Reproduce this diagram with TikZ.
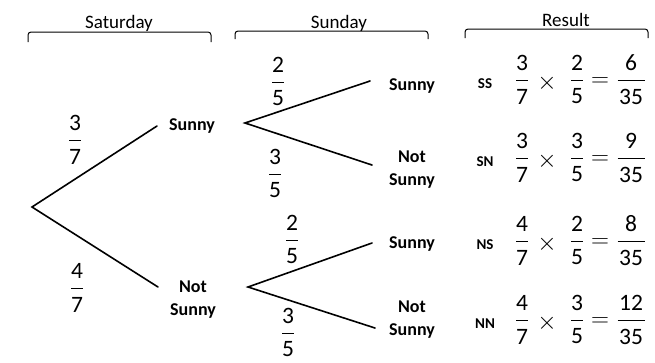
\documentclass[tikz,border=0pt]{standalone}
\usepackage{fontspec}
\setmainfont{Carlito}
\begin{document}
\begin{tikzpicture}[x=1pt,y=-1pt,
  branch/.style={line width=1.6pt,line cap=round},
  brk/.style={line width=1pt,rounded corners=3pt},
  fbar/.style={line width=1pt},
  hdr/.style={font=\fontsize{19}{22}\selectfont,inner sep=0pt,anchor=base},
  lbl/.style={font=\bfseries\fontsize{18}{23}\selectfont,align=center,inner sep=0pt},
  code/.style={font=\bfseries\fontsize{15}{16}\selectfont,inner sep=0pt},
  dig/.style={font=\fontsize{23.5}{24}\selectfont,inner sep=0pt},
  op/.style={font=\fontsize{24}{24}\selectfont,inner sep=0pt},
  tms/.style={font=\fontsize{27}{27}\selectfont,inner sep=0pt},
  pics/fr/.style n args={3}{code={
    \node[dig] (-n) at (0,-17) {#1};
    \node[dig] (-d) at (0,16.5) {#2};
    \draw[fbar] (-#3,0) -- (#3,0);
  }}]
\useasboundingbox (0,0) rectangle (655,362);
% headers
\node[hdr] (hsat) at (119,28) {Saturday};
\node[hdr] (hsun) at (339,28) {Sunday};
\node[hdr] (hres) at (566,26) {Result};
\draw[brk] (28,42) -- (28,32) -- (211,32) -- (211,42);
\draw[brk] (235,39) -- (235,31) -- (428,31) -- (428,39);
\draw[brk] (465,38) -- (465,29) -- (648,29) -- (648,38);
% tree points
\coordinate (r) at (32,207);
\coordinate (a1) at (157,126);
\coordinate (a2) at (158,287);
\coordinate (b1) at (245,123);
\coordinate (b2) at (248,287);
\coordinate (c1) at (370,81);
\coordinate (c2) at (372,165);
\coordinate (c3) at (372,243);
\coordinate (c4) at (375,328);
\draw[branch] (a1) -- (r) -- (a2);
\draw[branch] (c1) -- (b1) -- (c2);
\draw[branch] (c3) -- (b2) -- (c4);
% labels
\node[lbl] (s1) at (192,126) {Sunny};
\node[lbl] (n1) at (193,300) {Not\\Sunny};
\node[lbl] (ss) at (412,86) {Sunny};
\node[lbl] (sn) at (412,170) {Not\\Sunny};
\node[lbl] (ns) at (412,244) {Sunny};
\node[lbl] (nn) at (412,320) {Not\\Sunny};
% branch probabilities
\pic (f1) at (75,140) {fr={3}{7}{6}};
\pic (f2) at (77,288) {fr={4}{7}{6}};
\pic (f3) at (278,82) {fr={2}{5}{6}};
\pic (f4) at (275,174) {fr={3}{5}{6}};
\pic (f5) at (292,240) {fr={2}{5}{6}};
\pic (f6) at (288,333) {fr={3}{5}{6}};
% results
\foreach \row/\y/\c/\a/\b/\p/\q in {1/80/SS/3/2/6/35, 2/158/SN/3/3/9/35, 3/241/NS/4/2/8/35, 4/320/NN/4/3/12/35}{
  \node[code] (k\row) at (485,\y+4) {\c};
  \pic (r\row a) at (522,\y) {fr={\a}{7}{6}};
  \node[tms] (t\row) at (547,\y+3) {$\times$};
  \pic (r\row b) at (577,\y) {fr={\b}{5}{6}};
  \node[op] (e\row) at (600,\y+2) {$=$};
  \pic (r\row c) at (631,\y) {fr={\p}{\q}{13.5}};
}
\end{tikzpicture}
\end{document}
